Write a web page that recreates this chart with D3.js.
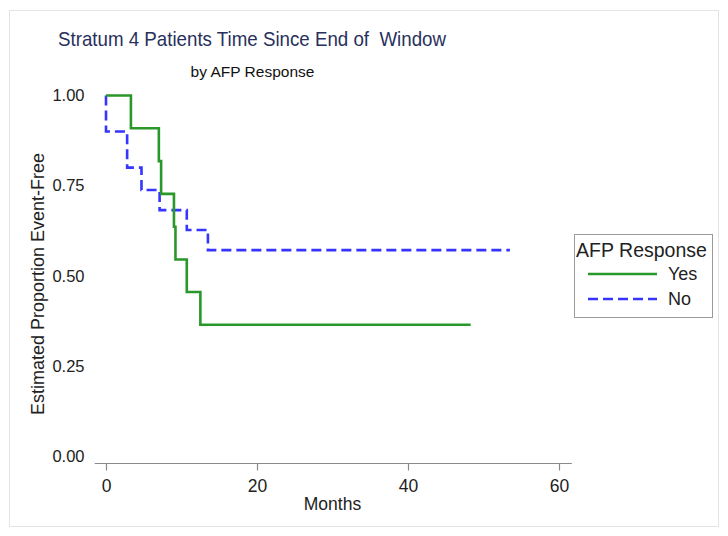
<!DOCTYPE html>
<html>
<head>
<meta charset="utf-8">
<script src="https://cdn.jsdelivr.net/npm/d3@7"></script>
<style>
  html, body { margin: 0; padding: 0; background: #ffffff; }
  svg text { font-family: "Liberation Sans", Arial, sans-serif; }
</style>
</head>
<body>
<svg id="chart" width="728" height="536"></svg>
<script>
// Data
const yesTimes = [0, 3.3, 7.0, 7.3, 9.0, 9.2, 10.7, 12.5, 48.3];
const yesSurv  = [1.0, 0.909, 0.818, 0.727, 0.636, 0.545, 0.455, 0.364, 0.364];
const noTimes  = [0, 0, 2.8, 4.7, 7.1, 10.7, 13.5, 53.5];
const noSurv   = [1.0, 0.90, 0.80, 0.738, 0.682, 0.627, 0.571, 0.571];
const xTicks = [0, 20, 40, 60];
const yTicks = [0, 0.25, 0.5, 0.75, 1.0];
const seriesNames = ["Yes", "No"];

const svg = d3.select("#chart");

// faint frame
svg.append("rect").attr("x", 9.5).attr("y", 10.5).attr("width", 709).attr("height", 516)
  .attr("fill", "#ffffff").attr("stroke", "#e4e4e4").attr("stroke-width", 1);

const x = d3.scaleLinear().domain([0, 60]).range([106, 559]);
const y = d3.scaleLinear().domain([0, 1]).range([456, 95.5]);

// Titles
svg.append("text").attr("x", 252).attr("y", 46).attr("text-anchor", "middle")
  .attr("font-size", 21).attr("fill", "#28305c")
  .attr("textLength", 388).attr("lengthAdjust", "spacingAndGlyphs")
  .style("white-space", "pre")
  .text("Stratum 4 Patients Time Since End of  Window");
svg.append("text").attr("x", 252.5).attr("y", 77).attr("text-anchor", "middle")
  .attr("font-size", 15.5).attr("fill", "#111")
  .text("by AFP Response");

// X axis
const xAxis = d3.axisBottom(x).tickValues(xTicks).tickSize(7).tickSizeOuter(0).tickFormat(d3.format("d"));
const gx = svg.append("g").attr("transform", "translate(0,463.5)").call(xAxis);
gx.select(".domain").remove();
gx.append("line").attr("x1", x(-1.5)).attr("x2", x(61.7)).attr("y1", 0).attr("y2", 0)
  .attr("stroke", "#8a8a8a").attr("stroke-width", 1.2);
gx.selectAll(".tick line").attr("stroke", "#8a8a8a").attr("stroke-width", 1.2);
gx.selectAll(".tick text").attr("font-size", 17.5).attr("fill", "#222").attr("y", 0).attr("dy", 0)
  .attr("transform", "translate(0,28.5)")
  .style("font-family", "Liberation Sans, Arial, sans-serif");
svg.append("text").attr("x", 332.5).attr("y", 510).attr("text-anchor", "middle")
  .attr("font-size", 17.5).attr("fill", "#222").text("Months");

// Y axis (labels only)
const yAxis = d3.axisLeft(y).tickValues(yTicks).tickSize(0).tickPadding(0).tickFormat(d3.format(".2f"));
const gy = svg.append("g").attr("transform", "translate(84.5,0)").call(yAxis);
gy.select(".domain").remove();
gy.selectAll(".tick text").attr("font-size", 16.5).attr("fill", "#222")
  .style("font-family", "Liberation Sans, Arial, sans-serif");
svg.append("text").attr("transform", "translate(44,284) rotate(-90)").attr("text-anchor", "middle")
  .attr("font-size", 18).attr("fill", "#222").text("Estimated Proportion Event-Free");

// Curves
const line = d3.line().x(d => x(d[0])).y(d => y(d[1])).curve(d3.curveStepAfter);
const yesData = yesTimes.map((t, i) => [t, yesSurv[i]]);
const noData = noTimes.map((t, i) => [t, noSurv[i]]);

svg.append("path").datum(noData).attr("d", line).attr("fill", "none")
  .attr("stroke", "#3535ff").attr("stroke-width", 2.6).attr("stroke-dasharray", "10,5");
svg.append("path").datum(yesData).attr("d", line).attr("fill", "none")
  .attr("stroke", "#2a972a").attr("stroke-width", 2.6);

// Legend
const lg = svg.append("g");
lg.append("rect").attr("x", 574.5).attr("y", 234.5).attr("width", 138).attr("height", 83)
  .attr("fill", "#fff").attr("stroke", "#9a9a9a").attr("stroke-width", 1);
lg.append("text").attr("x", 641.5).attr("y", 257).attr("text-anchor", "middle")
  .attr("font-size", 19.5).attr("fill", "#222").text("AFP Response");
const legendItems = [
  {name: seriesNames[0], color: "#2a972a", dash: null, y: 274},
  {name: seriesNames[1], color: "#3535ff", dash: "10,5", y: 299}
];
legendItems.forEach(it => {
  lg.append("line").attr("x1", 588).attr("x2", 657).attr("y1", it.y).attr("y2", it.y)
    .attr("stroke", it.color).attr("stroke-width", 2.6)
    .attr("stroke-dasharray", it.dash);
  lg.append("text").attr("x", 668).attr("y", it.y + 6).attr("font-size", 18)
    .attr("fill", "#222").text(it.name);
});
</script>
</body>
</html>
